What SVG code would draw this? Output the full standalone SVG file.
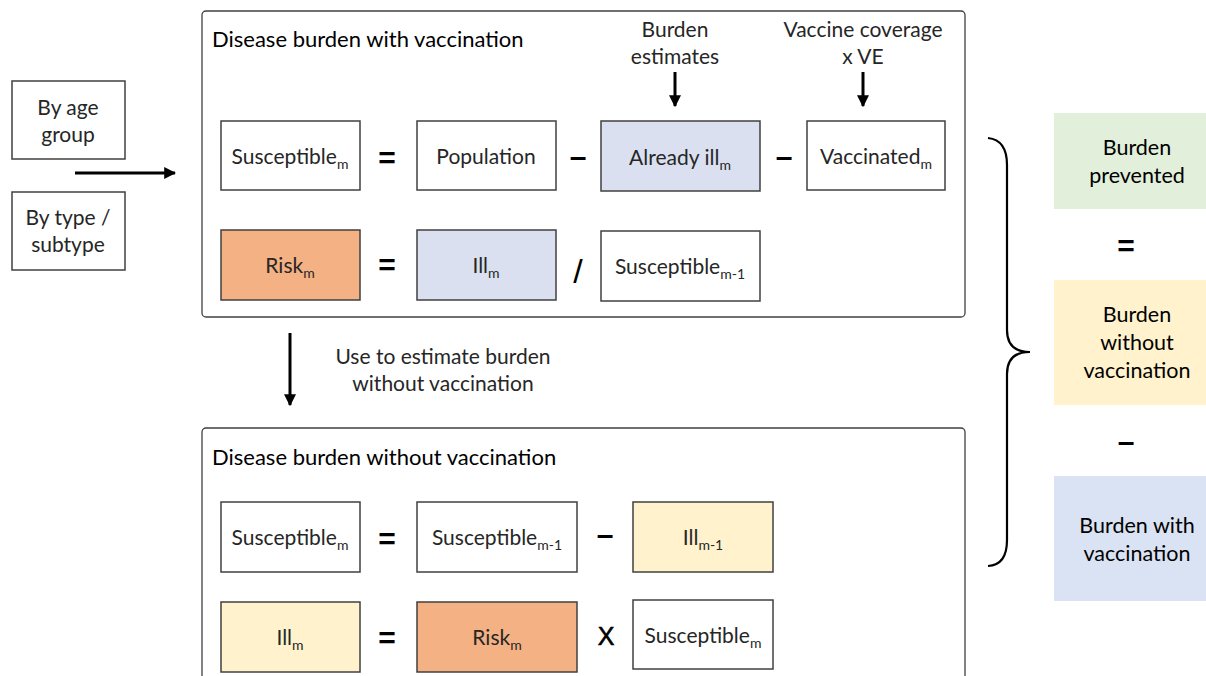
<svg xmlns="http://www.w3.org/2000/svg" width="1206" height="676" viewBox="0 0 1206 676">
<defs>
<marker id="ah" viewBox="0 0 10 10" refX="9" refY="5" markerWidth="4" markerHeight="4" orient="auto" markerUnits="strokeWidth"><path d="M0,0 L10,5 L0,10 z" fill="#000"/></marker>
<style>
text{font-family:Lato,"Open Sans","Liberation Sans",sans-serif;fill:#262626;font-size:21px}
.b{fill:#fff;stroke:#404040;stroke-width:1.5}
.o{fill:#fff;stroke:#404040;stroke-width:1.3}
.blue{fill:#dae0f0;stroke:#404040;stroke-width:1.5}
.orange{fill:#f4b183;stroke:#404040;stroke-width:1.5}
.yel{fill:#fff2cc;stroke:#404040;stroke-width:1.5}
.c{text-anchor:middle}
.op{font-family:"Liberation Sans",sans-serif;font-size:30px;text-anchor:middle;fill:#000;font-weight:bold}
.s{font-size:14px}
.t{font-size:22px;fill:#000}
.r{font-size:21.5px;fill:#000;text-anchor:middle}
.con{stroke:#000;stroke-width:3;fill:none}
</style>
</defs>
<g id="age"><rect class="b" x="12" y="81" width="113" height="78"/><text class="c" x="68" y="115">By age</text><text class="c" x="68" y="142">group</text></g>
<g id="type"><rect class="b" x="12" y="192" width="113" height="78"/><text class="c" x="68" y="225">By type /</text><text class="c" x="68" y="252">subtype</text></g>
<g id="withvacc">
<rect class="o" x="202" y="11" width="763" height="306" rx="4"/>
<text class="t" x="212" y="47">Disease burden with vaccination</text>
<text class="c" x="675" y="37">Burden</text><text class="c" x="675" y="64">estimates</text>
<text class="c" x="863" y="37">Vaccine coverage</text><text class="c" x="863" y="64">x VE</text>
</g>
<g id="s1"><rect class="b" x="221" y="121" width="139" height="69"/><text class="c" x="290" y="164">Susceptible<tspan class="s" dy="5">m</tspan></text></g>
<text class="op" x="387" y="168">=</text>
<g id="pop"><rect class="b" x="417" y="121" width="139" height="69"/><text class="c" x="486" y="164">Population</text></g>
<text class="op" x="578" y="167">–</text>
<g id="ill0"><rect class="blue" x="601" y="121" width="159" height="70"/><text class="c" x="680" y="165">Already ill<tspan class="s" dy="5">m</tspan></text></g>
<text class="op" x="784" y="167">–</text>
<g id="vac"><rect class="b" x="807" y="121" width="138" height="69"/><text class="c" x="876" y="164">Vaccinated<tspan class="s" dy="5">m</tspan></text></g>
<g id="risk1"><rect class="orange" x="221" y="230" width="139" height="70"/><text class="c" x="290" y="273">Risk<tspan class="s" dy="5">m</tspan></text></g>
<text class="op" x="387" y="275">=</text>
<g id="ill1"><rect class="blue" x="417" y="230" width="139" height="70"/><text class="c" x="486" y="273">Ill<tspan class="s" dy="5">m</tspan></text></g>
<text class="op" x="578" y="283" style="font-size:34px;font-weight:normal">/</text>
<g id="sm1"><rect class="b" x="601" y="231" width="159" height="70"/><text class="c" x="680" y="274">Susceptible<tspan class="s" dy="5">m-1</tspan></text></g>
<text class="c" x="443" y="364">Use to estimate burden</text>
<text class="c" x="443" y="391">without vaccination</text>
<g id="withoutvacc">
<rect class="o" x="202" y="428" width="763" height="260" rx="4"/>
<text class="t" x="212" y="465">Disease burden without vaccination</text>
</g>
<g id="s2"><rect class="b" x="221" y="502" width="139" height="70"/><text class="c" x="290" y="545">Susceptible<tspan class="s" dy="5">m</tspan></text></g>
<text class="op" x="387" y="549">=</text>
<g id="s3"><rect class="b" x="417" y="502" width="160" height="70"/><text class="c" x="497" y="545">Susceptible<tspan class="s" dy="5">m-1</tspan></text></g>
<text class="op" x="605" y="545">–</text>
<g id="ill2"><rect class="yel" x="633" y="502" width="140" height="70"/><text class="c" x="703" y="545">Ill<tspan class="s" dy="5">m-1</tspan></text></g>
<g id="ill3"><rect class="yel" x="221" y="602" width="139" height="70"/><text class="c" x="290" y="645">Ill<tspan class="s" dy="5">m</tspan></text></g>
<text class="op" x="387" y="648">=</text>
<g id="risk2"><rect class="orange" x="417" y="602" width="160" height="70"/><text class="c" x="497" y="645">Risk<tspan class="s" dy="5">m</tspan></text></g>
<text class="op" x="606" y="645" style="font-size:25px;font-weight:normal;stroke:#000;stroke-width:0.6">X</text>
<g id="s4"><rect class="b" x="633" y="600" width="140" height="69"/><text class="c" x="703" y="643">Susceptible<tspan class="s" dy="5">m</tspan></text></g>
<g id="prevented"><rect x="1054" y="113" width="152" height="96" fill="#e2efda"/><text class="r" x="1137" y="155">Burden</text><text class="r" x="1137" y="183">prevented</text></g>
<text class="op" x="1126" y="256">=</text>
<g id="without"><rect x="1054" y="280" width="152" height="125" fill="#fff2cc"/><text class="r" x="1137" y="322">Burden</text><text class="r" x="1137" y="350">without</text><text class="r" x="1137" y="378">vaccination</text></g>
<text class="op" x="1126" y="452">–</text>
<g id="with"><rect x="1054" y="476" width="152" height="125" fill="#dae3f3"/><text class="r" x="1137" y="533">Burden with</text><text class="r" x="1137" y="561">vaccination</text></g>
<g id="connectors">
<line class="con" x1="75" y1="173" x2="175" y2="173" marker-end="url(#ah)"/>
<line class="con" x1="675" y1="72" x2="675" y2="106" marker-end="url(#ah)"/>
<line class="con" x1="863" y1="72" x2="863" y2="106" marker-end="url(#ah)"/>
<line class="con" x1="290" y1="333" x2="290" y2="405" marker-end="url(#ah)"/>
<path d="M988,138 Q1007,140 1007,165 L1007,330 Q1007,352 1030,352 Q1007,352 1007,374 L1007,540 Q1007,565 988,566" fill="none" stroke="#000" stroke-width="2.2"/>
</g>
</svg>
